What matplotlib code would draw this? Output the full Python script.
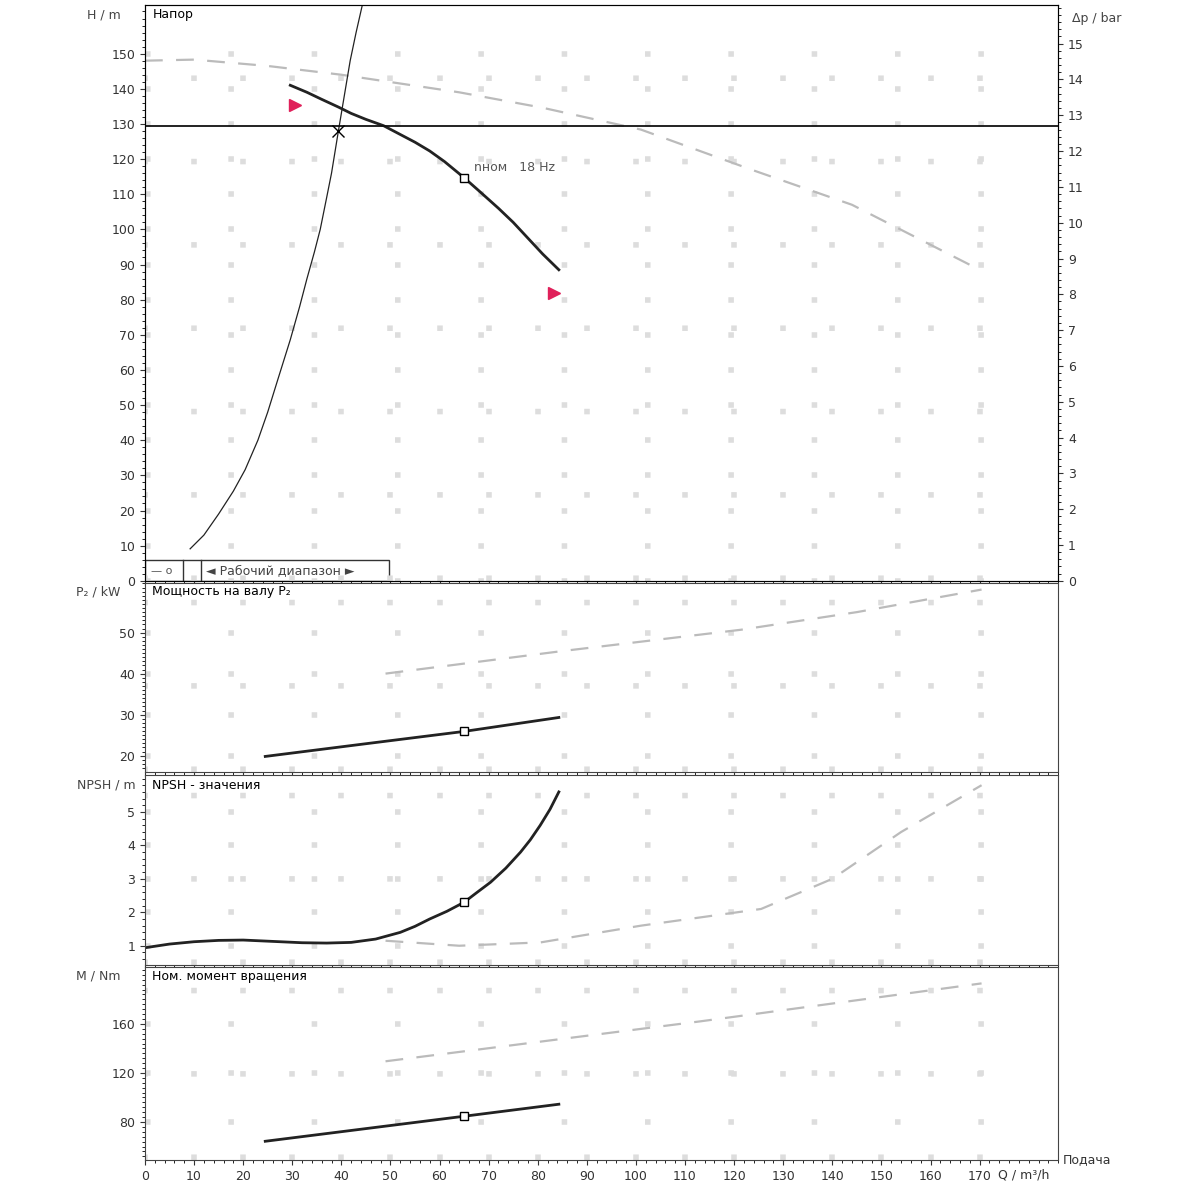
import matplotlib
matplotlib.use("Agg")
import matplotlib.pyplot as plt
from matplotlib.ticker import MultipleLocator
import numpy as np

# Head panel
head_q = [29.6, 33, 36, 39.4, 42, 45, 48.6, 52, 55, 58, 61, 65, 68, 72, 75, 78, 81, 84.3]
head_h = [141, 139, 137, 134.8, 133, 131.3, 129.5, 127, 124.8, 122.3, 119.3, 114.7, 111, 106, 102, 97.5, 93, 88.5]
head_max_q = [0, 10, 25, 40, 64, 81, 101, 123.5, 144, 170]
head_max_h = [148, 148.3, 146.5, 144, 139, 134.6, 128.4, 117, 107, 88.5]
sys_q = [9.2, 12, 15, 18, 20.4, 23, 25, 27, 29.6, 31.5, 33, 34.5, 35.7, 37, 38, 39.4, 40.6, 41.8, 43, 44.3]
sys_h = [9.1, 13, 19, 25.5, 31.6, 40, 48, 57, 68.6, 78, 86, 93.5, 100, 109, 116, 128, 138, 148, 156, 164]
op_q, op_h = 39.4, 128
dp_line_h = 129.5
range_q = [30.6, 83.3]
range_h = [135.5, 82]
nom_q, nom_h = 65, 114.7

# Power
p_q = [24.5, 45, 65, 84.3]
p_v = [19.8, 22.9, 25.9, 29.3]
pmax_q = [49, 85, 121.4, 145, 170.4]
pmax_v = [40, 45.5, 50.7, 55, 60.5]
p_nom = 25.9

# NPSH
n_q = [0, 5, 10, 15, 20, 26, 32, 37, 42, 47, 52, 55, 58, 61.5, 65, 67.5, 70.4, 73.5, 76.5, 78.5, 80.5, 82.5, 84.3]
n_v = [0.94, 1.05, 1.12, 1.16, 1.17, 1.13, 1.09, 1.08, 1.1, 1.2, 1.4, 1.58, 1.8, 2.03, 2.3, 2.58, 2.9, 3.32, 3.8, 4.17, 4.6, 5.08, 5.6]
nmax_q = [49, 64, 80.6, 101, 125.5, 140, 154, 170.4]
nmax_v = [1.15, 1.0, 1.1, 1.6, 2.1, 3.0, 4.4, 5.8]
n_nom = 2.3

# Torque
m_q = [24.5, 65, 84.3]
m_v = [64.3, 84.7, 94.5]
mmax_q = [49, 113, 170.4]
mmax_v = [129.5, 162, 193]
m_nom = 84.7

xticks = list(range(0, 180, 10))

fig = plt.figure(figsize=(12, 12), dpi=100)
L, W = 0.1208, 0.761
axH = fig.add_axes([L, 0.516, W, 0.48])
axP = fig.add_axes([L, 0.357, W, 0.1575], sharex=axH)
axN = fig.add_axes([L, 0.196, W, 0.158], sharex=axH)
axM = fig.add_axes([L, 0.0333, W, 0.161], sharex=axH)

gray = "#bbbbbb"
for ax in (axH, axP, axN, axM):
    ax.set_xlim(0, 186)
    ax.grid(True, which="major", color="#dddddd", linestyle=(0, (1, 14)), linewidth=4)
    ax.tick_params(labelsize=9, colors="#333333", direction="out")
    ax.xaxis.set_minor_locator(MultipleLocator(2))
    ax.set_xticks(xticks)
    for s in ax.spines.values():
        s.set_color("#444444")
for ax in (axH, axP, axN):
    ax.tick_params(axis="x", labelbottom=False)

# Head
axH.set_ylim(0, 163.9)
axH.set_yticks(range(0, 160, 10))
axH.yaxis.set_minor_locator(MultipleLocator(2))
axH.plot(head_max_q, head_max_h, color=gray, ls=(0, (8, 6)), lw=1.6)
axH.plot(head_q, head_h, color="#222222", lw=2)
axH.plot(sys_q, sys_h, color="#222222", lw=0.9)
axH.axhline(dp_line_h, color="#111111", lw=1.3)
axH.plot([op_q], [op_h], marker="x", color="k", ms=8)
axH.plot([nom_q], [nom_h], marker="s", mfc="white", mec="k", ms=6)
axH.plot([range_q[0]], [range_h[0]], marker=">", color="#e0205a", ms=8, ls="")
axH.plot([range_q[1]], [range_h[1]], marker=">", color="#e0205a", ms=8, ls="")
axH.text(67, 116.5, "nном   18 Hz", fontsize=9, color="#555555")
axH.text(1.5, 163, "Напор", fontsize=9, va="top")
axH.text(-5, 161, "H / m", fontsize=9, ha="right", va="center", color="#444444")
axR = axH.twinx()
axR.set_ylim(0, 163.9 / 10.19)
axR.set_yticks(range(0, 16))
axR.yaxis.set_minor_locator(MultipleLocator(0.2))
axR.tick_params(labelsize=9, colors="#333333")
axR.text(1.015, 0.97, "Δp / bar", transform=axH.transAxes, fontsize=9, color="#444444")
# legend box
axH.add_patch(plt.Rectangle((0, 0), 49.7, 5.8, fill=False, lw=1, ec="#333333"))
axH.plot([7.7, 7.7], [0, 5.8], color="#333", lw=1)
axH.plot([11.5, 11.5], [0, 5.8], color="#333", lw=1)
axH.text(1.2, 2.9, "— o", fontsize=8, va="center", color="#555")
axH.text(12.5, 2.9, "◄ Рабочий диапазон ►", fontsize=9, va="center", color="#444")

# Power
axP.set_ylim(16.1, 62.2)
axP.set_yticks([20, 30, 40, 50])
axP.yaxis.set_minor_locator(MultipleLocator(1))
axP.plot(pmax_q, pmax_v, color=gray, ls=(0, (8, 6)), lw=1.6)
axP.plot(p_q, p_v, color="#222222", lw=2)
axP.plot([nom_q], [p_nom], marker="s", mfc="white", mec="k", ms=6)
axP.text(1.5, 61.5, "Мощность на валу P₂", fontsize=9, va="top")
axP.text(-5, 60, "P₂ / kW", fontsize=9, ha="right", va="center", color="#444444")

# NPSH
axN.set_ylim(0.43, 6.1)
axN.set_yticks([1, 2, 3, 4, 5])
axN.yaxis.set_minor_locator(MultipleLocator(0.2))
axN.plot(nmax_q, nmax_v, color=gray, ls=(0, (8, 6)), lw=1.6)
axN.plot(n_q, n_v, color="#222222", lw=2)
axN.plot([nom_q], [n_nom], marker="s", mfc="white", mec="k", ms=6)
axN.text(1.5, 6.0, "NPSH - значения", fontsize=9, va="top")
axN.text(-2, 5.8, "NPSH / m", fontsize=9, ha="right", va="center", color="#444444")

# Torque
axM.set_ylim(49, 206.5)
axM.set_yticks([80, 120, 160])
axM.yaxis.set_minor_locator(MultipleLocator(4))
axM.plot(mmax_q, mmax_v, color=gray, ls=(0, (8, 6)), lw=1.6)
axM.plot(m_q, m_v, color="#222222", lw=2)
axM.plot([nom_q], [m_nom], marker="s", mfc="white", mec="k", ms=6)
axM.text(1.5, 204, "Ном. момент вращения", fontsize=9, va="top")
axM.text(-5, 199, "M / Nm", fontsize=9, ha="right", va="center", color="#444444")
axM.text(187, 49, "Подача", fontsize=9, va="center", color="#333")
axM.text(179, -0.045, "Q / m³/h", transform=axM.get_xaxis_transform(), fontsize=9,
         ha="center", va="top", color="#333")

fig.savefig("out.png", dpi=100)
